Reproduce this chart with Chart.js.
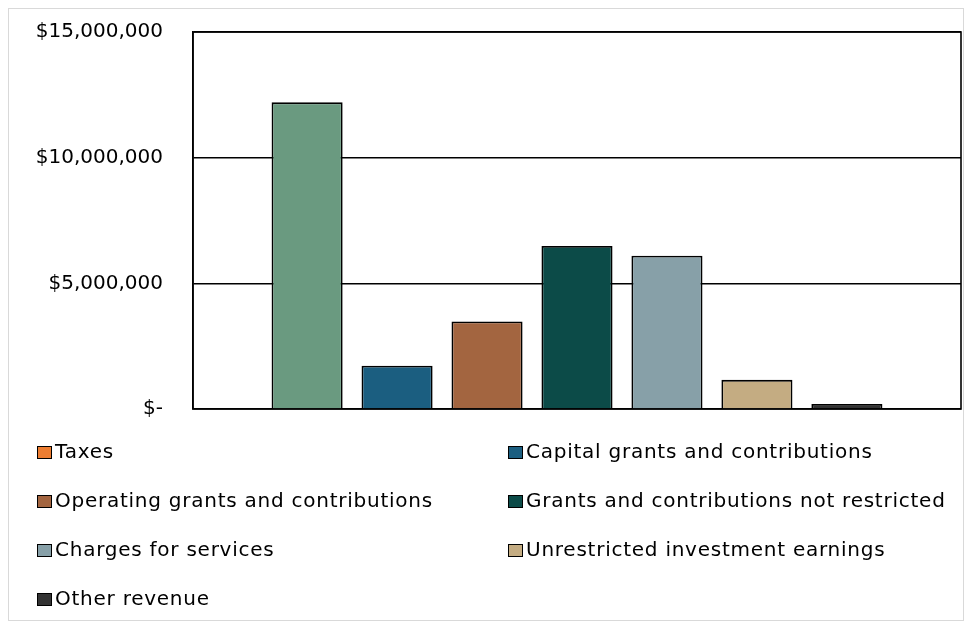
<!DOCTYPE html>
<html>
<head>
<meta charset="utf-8">
<script src="https://cdn.jsdelivr.net/npm/chart.js@4.4.1/dist/chart.umd.min.js"></script>
<style>
  html, body { margin: 0; padding: 0; background: #fff; }
  #wrap { position: relative; width: 968px; height: 628px; }
  #frame { position: absolute; left: 8px; top: 8px; width: 956px; height: 613px; border: 1px solid #d9d9d9; box-sizing: border-box; }
  #chart { position: absolute; left: 0; top: 0; }
  .lg { position: absolute; font-family: "DejaVu Sans", sans-serif; font-size: 20px; letter-spacing: 0.75px; color: #000; white-space: nowrap; line-height: 24px; }
  .lg i { display: inline-block; width: 13px; height: 11px; border: 1.5px solid #000; margin-right: 3px; vertical-align: -1px; }
</style>
</head>
<body>
<div id="wrap">
  <div id="frame"></div>
  <canvas id="chart" width="968" height="628"></canvas>
  <div id="legend"></div>
</div>
<script>
// Revenue by source, one category, one dataset per source

const categories = ['Revenue'];
const seriesNames = [
  'Taxes',
  'Capital grants and contributions',
  'Operating grants and contributions',
  'Grants and contributions not restricted',
  'Charges for services',
  'Unrestricted investment earnings',
  'Other revenue'
];
const seriesValues = [12200000, 1720000, 3480000, 6490000, 6100000, 1160000, 200000];
const yTicks = [0, 5000000, 10000000, 15000000];

// bar fill, and the legend swatch (Taxes swatch differs from its bar)
const barColors = ['#6a9a80', '#1b5e80', '#a36540', '#0c4b48', '#87a0a8', '#c4ac82', '#333333'];
const swatchColors = ['#ed7d31', '#1b5e80', '#a36540', '#0c4b48', '#87a0a8', '#c4ac82', '#333333'];

function money(v) {
  if (v === 0) return '$-';
  return '$' + Number(v).toLocaleString('en-US');
}

// box round the plot area
const plotBox = {
  id: 'plotBox',
  beforeDatasetsDraw(chart) {
    const a = chart.chartArea, ctx = chart.ctx;
    ctx.save();
    ctx.strokeStyle = '#000';
    ctx.lineWidth = 1.6;
    ctx.strokeRect(a.left, a.top, a.right - a.left, a.bottom - a.top);
    ctx.restore();
  }
};

const datasets = seriesNames.map((name, i) => ({
  label: name,
  data: [seriesValues[i]],
  backgroundColor: barColors[i],
  borderColor: '#000',
  borderWidth: 1.8,
  categoryPercentage: 0.82,
  barPercentage: 0.79
}));

const chart = new Chart(document.getElementById('chart').getContext('2d'), {
  type: 'bar',
  data: { labels: categories, datasets: datasets },
  options: {
    responsive: false,
    animation: false,
    layout: { padding: { left: 0, right: 7, top: 32, bottom: 219 } },
    plugins: { legend: { display: false }, tooltip: { enabled: false } },
    scales: {
      x: {
        ticks: { display: false },
        grid: { display: false, drawTicks: false },
        border: { display: false },
        afterFit: s => { s.height = 0; }
      },
      y: {
        min: 0,
        max: 15000000,
        afterBuildTicks: s => { s.ticks = yTicks.map(v => ({ value: v })); },
        ticks: {
          callback: v => money(v),
          color: '#000',
          padding: 30,
          font: { family: 'DejaVu Sans', size: 20 }
        },
        grid: { color: '#000', lineWidth: 1.5, drawTicks: false },
        border: { color: '#000', width: 1.6 },
        afterFit: s => { s.width = 193; s.paddingTop = 0; s.paddingBottom = 0; }
      }
    }
  },
  plugins: [plotBox]
});

// two-column legend under the plot
const legendEl = document.getElementById('legend');
seriesNames.forEach((name, i) => {
  const d = document.createElement('div');
  d.className = 'lg';
  d.style.left = (i % 2 ? 508 : 37) + 'px';
  d.style.top = (439 + Math.floor(i / 2) * 49) + 'px';
  d.innerHTML = '<i style="background:' + swatchColors[i] + '"></i>' + name;
  legendEl.appendChild(d);
});
</script>
</body>
</html>
